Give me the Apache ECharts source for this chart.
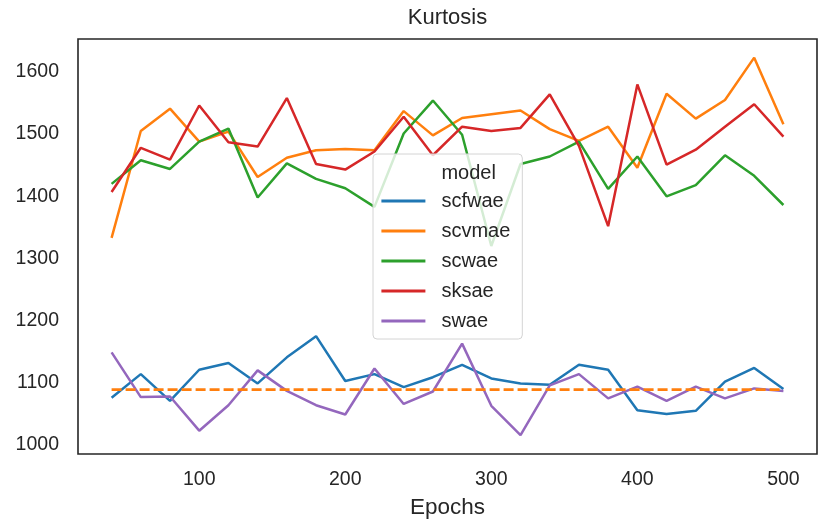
<!DOCTYPE html>
<html>
<head>
<meta charset="utf-8">
<script src="https://cdn.jsdelivr.net/npm/echarts@6/dist/echarts.min.js"></script>
<style>
html,body{margin:0;padding:0;background:#fff;}
#chart{width:825px;height:525px;}
</style>
</head>
<body>
<div id="chart"></div>
<script>
var epochs = [40,60,80,100,120,140,160,180,200,220,240,260,280,300,320,340,360,380,400,420,440,460,480,500];
var scfwae = [1076,1114,1071,1121,1132,1099,1141,1175,1103,1114,1093,1109,1129,1107,1099,1097,1129,1121,1056,1050,1055,1102,1124,1090];
var scvmae = [1333,1505,1541,1488,1504,1431,1462,1474,1476,1474,1537,1498,1526,1532,1538,1508,1489,1512,1446,1565,1525,1555,1623,1516];
var scwae  = [1420,1458,1444,1488,1509,1398,1453,1428,1413,1383,1501,1554,1499,1320,1452,1464,1488,1412,1464,1400,1418,1466,1433,1386];
var sksae  = [1407,1478,1459,1546,1487,1480,1558,1452,1443,1472,1528,1466,1512,1505,1510,1564,1481,1352,1580,1451,1475,1512,1548,1496];
var swae   = [1149,1077,1078,1023,1064,1120,1087,1064,1049,1123,1066,1086,1163,1063,1016,1096,1114,1075,1094,1071,1094,1075,1091,1087];
var refEpochs = [40, 500];
var refValues = [1089, 1089];
var xTicks = [100,200,300,400,500];
var yTicks = [1000,1100,1200,1300,1400,1500,1600];
var seriesNames = ['scfwae','scvmae','scwae','sksae','swae'];
var seriesData = [scfwae, scvmae, scwae, sksae, swae];
var colors = ['#1f77b4','#ff7f0e','#2ca02c','#d62728','#9467bd'];

function pairs(xs, ys){ return xs.map(function(x,i){ return [x, ys[i]]; }); }

var FONT = "'Liberation Sans', Arial, sans-serif";
var TXT = '#262626';

var series = [{ name: 'model', type: 'line', data: [] }];
seriesNames.forEach(function(n, i){
  series.push({
    name: n, type: 'line', data: pairs(epochs, seriesData[i]),
    showSymbol: false, symbol: 'none',
    lineStyle: { width: 2.5, color: colors[i] }, itemStyle: { color: colors[i] },
    animation: false
  });
});
series.push({
  name: 'ref', type: 'line', data: pairs(refEpochs, refValues),
  showSymbol: false, symbol: 'none',
  lineStyle: { width: 2.6, color: '#ff7f0e', type: [10, 4] },
  itemStyle: { color: '#ff7f0e' }, animation: false, z: 3
});

var chart = echarts.init(document.getElementById('chart'), null, { renderer: 'canvas' });
chart.setOption({
  animation: false,
  backgroundColor: '#fff',
  textStyle: { fontFamily: FONT, color: TXT },
  grid: { left: 78, top: 39, width: 739, height: 415, show: true, borderColor: '#262626', borderWidth: 1.6, backgroundColor: '#fff', containLabel: false },
  graphic: [{
    type: 'text', x: 447.5, y: 18,
    style: { text: 'Kurtosis', font: '22px ' + FONT, fill: TXT, align: 'center', verticalAlign: 'middle' }
  }],
  legend: {
    orient: 'vertical', left: 373, top: 154,
    data: [{ name: 'model', icon: 'none' }].concat(seriesNames),
    itemWidth: 44, itemHeight: 30, itemGap: 6,
    padding: [4, 12, 6, 7],
    itemStyle: { opacity: 0, borderWidth: 0 },
    lineStyle: { width: 2.8 },
    backgroundColor: 'rgba(255,255,255,0.8)', borderColor: '#d4d4d4', borderWidth: 1, borderRadius: 4,
    textStyle: { fontSize: 20, fontFamily: FONT, color: TXT, padding: [0, 0, 0, 11] },
    selectedMode: false
  },
  xAxis: {
    type: 'value', min: 17, max: 523,
    name: 'Epochs', nameLocation: 'middle', nameGap: 42,
    nameTextStyle: { fontSize: 22.5, fontFamily: FONT, color: TXT },
    axisLine: { show: false }, axisTick: { show: false }, splitLine: { show: false },
    axisLabel: { customValues: xTicks, fontSize: 19.5, fontFamily: FONT, color: TXT, margin: 16,
      formatter: function(v){ return String(v); } }
  },
  yAxis: {
    type: 'value', min: 985.5, max: 1653,
    axisLine: { show: false }, axisTick: { show: false }, splitLine: { show: false },
    axisLabel: { customValues: yTicks, fontSize: 19.5, fontFamily: FONT, color: TXT, margin: 19,
      formatter: function(v){ return String(v); } }
  },
  series: series
});
</script>
</body>
</html>
